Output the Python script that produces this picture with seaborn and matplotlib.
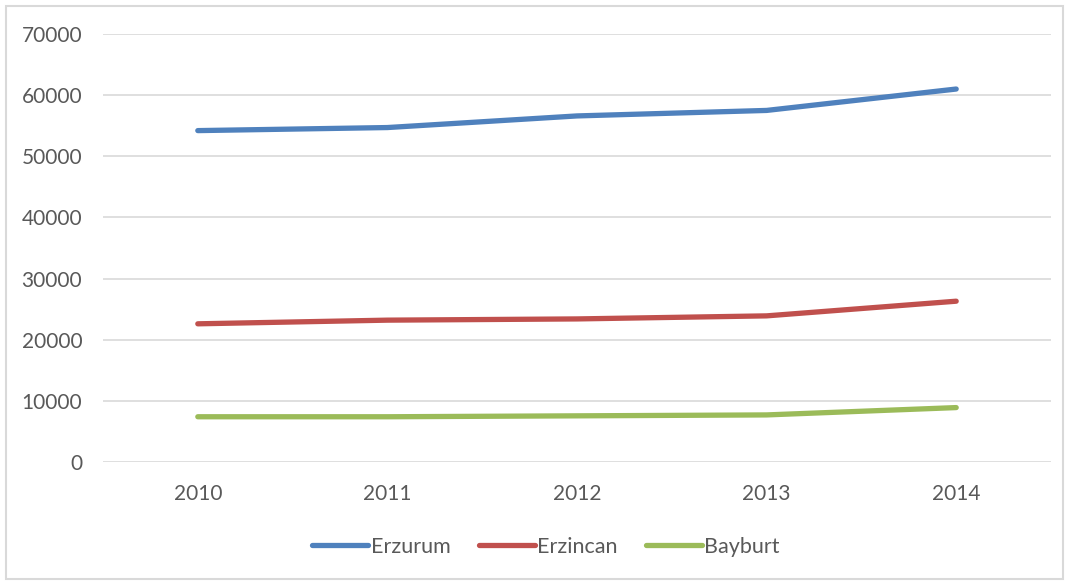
import pandas as pd
import seaborn as sns
import matplotlib.pyplot as plt
from matplotlib.patches import Rectangle

# values
years = ["2010", "2011", "2012", "2013", "2014"]
erzurum = [54200, 54700, 56600, 57500, 61000]
erzincan = [22600, 23200, 23400, 23900, 26300]
bayburt = [7400, 7400, 7550, 7700, 8900]
provinces = ["Erzurum", "Erzincan", "Bayburt"]
colors = ["#4F81BD", "#C0504D", "#9BBB59"]

df = pd.DataFrame({
    "Year": years * 3,
    "Province": [p for p in provinces for _ in years],
    "Value": erzurum + erzincan + bayburt,
})

sns.set_theme(style="white")
plt.rcParams["font.family"] = ["Lato", "DejaVu Sans"]
text_color = "#595959"
grid_color = "#d9d9d9"

fig = plt.figure(figsize=(10.68, 5.82), dpi=100)
ax = fig.add_axes([103 / 1068, 1 - 462 / 582, (1051 - 103) / 1068, (462 - 34) / 582])

sns.lineplot(data=df, x="Year", y="Value", hue="Province", hue_order=provinces,
             palette=colors, linewidth=3.8, ax=ax, sort=False,
             solid_capstyle="round", solid_joinstyle="round")

ax.set_xlim(-0.5, len(years) - 0.5)
ax.set_ylim(0, 70000)
ax.set_yticks(range(0, 70001, 10000))
ax.grid(axis="y", color=grid_color, linewidth=1.2)
ax.set_axisbelow(True)
for s in ax.spines.values():
    s.set_visible(False)
ax.tick_params(axis="both", length=0, labelsize=15, labelcolor=text_color)
ax.tick_params(axis="y", pad=15)
ax.tick_params(axis="x", pad=16)
ax.set_xlabel("")
ax.set_ylabel("")

handles, labels = ax.get_legend_handles_labels()
ax.legend_.remove()
for h in handles:
    h.set_solid_capstyle("round")
fig.legend(handles, labels, loc="center", bbox_to_anchor=(546 / 1068, 1 - 547 / 582),
           ncol=3, frameon=False, fontsize=15.5, labelcolor=text_color,
           handlelength=2.6, handletextpad=0.12, columnspacing=1.3)

# outer chart border
fig.patches.append(Rectangle((6 / 1068, 1 - 579 / 582), 1057 / 1068, 573 / 582,
                             transform=fig.transFigure, fill=False,
                             edgecolor=grid_color, linewidth=1.5))

fig.savefig("out.png", dpi=100, facecolor="white")
